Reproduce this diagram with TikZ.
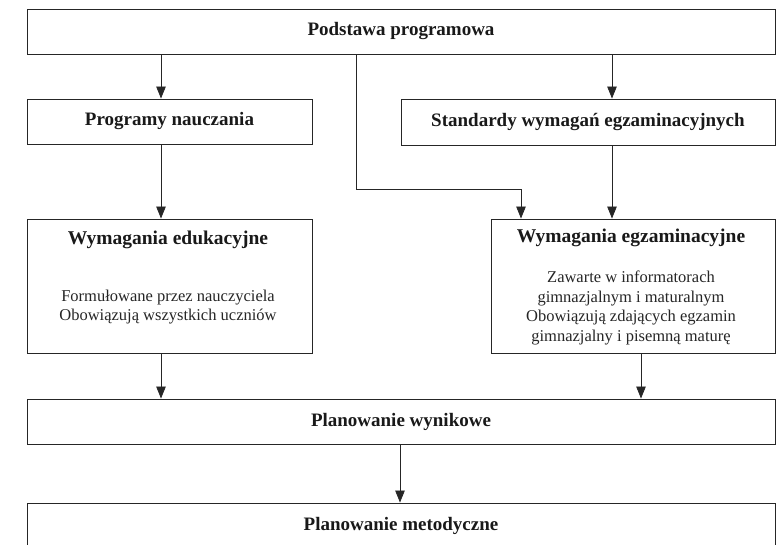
\documentclass[tikz,border=0pt]{standalone}
\usepackage{fontspec}
\setmainfont{Liberation Serif}
\usetikzlibrary{positioning,arrows.meta}

\begin{document}
\begin{tikzpicture}[x=1pt,y=-1pt,line width=0.9pt,
        box/.style={draw=black!85,inner sep=0pt,minimum height=45pt,text=black!90,font=\fontsize{19}{22}\selectfont\bfseries},
        head/.style={inner sep=0pt,text=black!90,font=\fontsize{19.5}{22}\selectfont\bfseries},
        note/.style={inner sep=0pt,align=center,text=black!85,font=\fontsize{16.5}{19.5}\selectfont},
        arr/.style={draw=black!85,line width=0.8pt,-{Triangle[length=12pt,width=9.5pt]}}]
    \useasboundingbox (0,0) rectangle (777,545);
    % boxes
    \node[box,minimum width=748pt] (podstawa) at (401,31.5) {Podstawa programowa};
    \node[box,minimum width=285pt] (programy) at (169.5,121.5) {Programy nauczania};
    \node[box,minimum width=374pt,minimum height=46pt] (standardy) at (588,122) {Standardy wymagań egzaminacyjnych};
    \node[box,minimum width=285pt,minimum height=134pt] (edukacyjne) at (169.5,286) {};
    \node[box,minimum width=284pt,minimum height=134pt] (egzaminacyjne) at (633,286) {};
    \node[box,minimum width=748pt] (wynikowe) at (401,421.5) {Planowanie wynikowe};
    \node[box,minimum width=748pt] (metodyczne) at (401,525.5) {Planowanie metodyczne};
    % texts in the tall boxes
    \node[head] (edutitle) at (168,240) {Wymagania edukacyjne};
    \node[note] (edunote) at (168,307) {Formułowane przez nauczyciela\\Obowiązują wszystkich uczniów};
    \node[head] (egztitle) at (631,238) {Wymagania egzaminacyjne};
    \node[note] (egznote) at (631,308) {Zawarte w informatorach\\gimnazjalnym i maturalnym\\Obowiązują zdających egzamin\\gimnazjalny i pisemną maturę};
    % columns of the connectors
    \coordinate (lcol) at (161,0);
    \coordinate (rcol) at (612,0);
    \coordinate (mcol) at (356,0);
    \coordinate (kink) at (521,189);
    \coordinate (wcol) at (641,0);
    \coordinate (ccol) at (400,0);
    % connectors
    \draw[arr] (podstawa.south -| lcol) -- (programy.north -| lcol);
    \draw[arr] (podstawa.south -| rcol) -- (standardy.north -| rcol);
    \draw[arr] (podstawa.south -| mcol) |- (kink) -- (egzaminacyjne.north -| kink);
    \draw[arr] (programy.south -| lcol) -- (edukacyjne.north -| lcol);
    \draw[arr] (standardy.south -| rcol) -- (egzaminacyjne.north -| rcol);
    \draw[arr] (edukacyjne.south -| lcol) -- (wynikowe.north -| lcol);
    \draw[arr] (egzaminacyjne.south -| wcol) -- (wynikowe.north -| wcol);
    \draw[arr] (wynikowe.south -| ccol) -- (metodyczne.north -| ccol);
\end{tikzpicture}
\end{document}
